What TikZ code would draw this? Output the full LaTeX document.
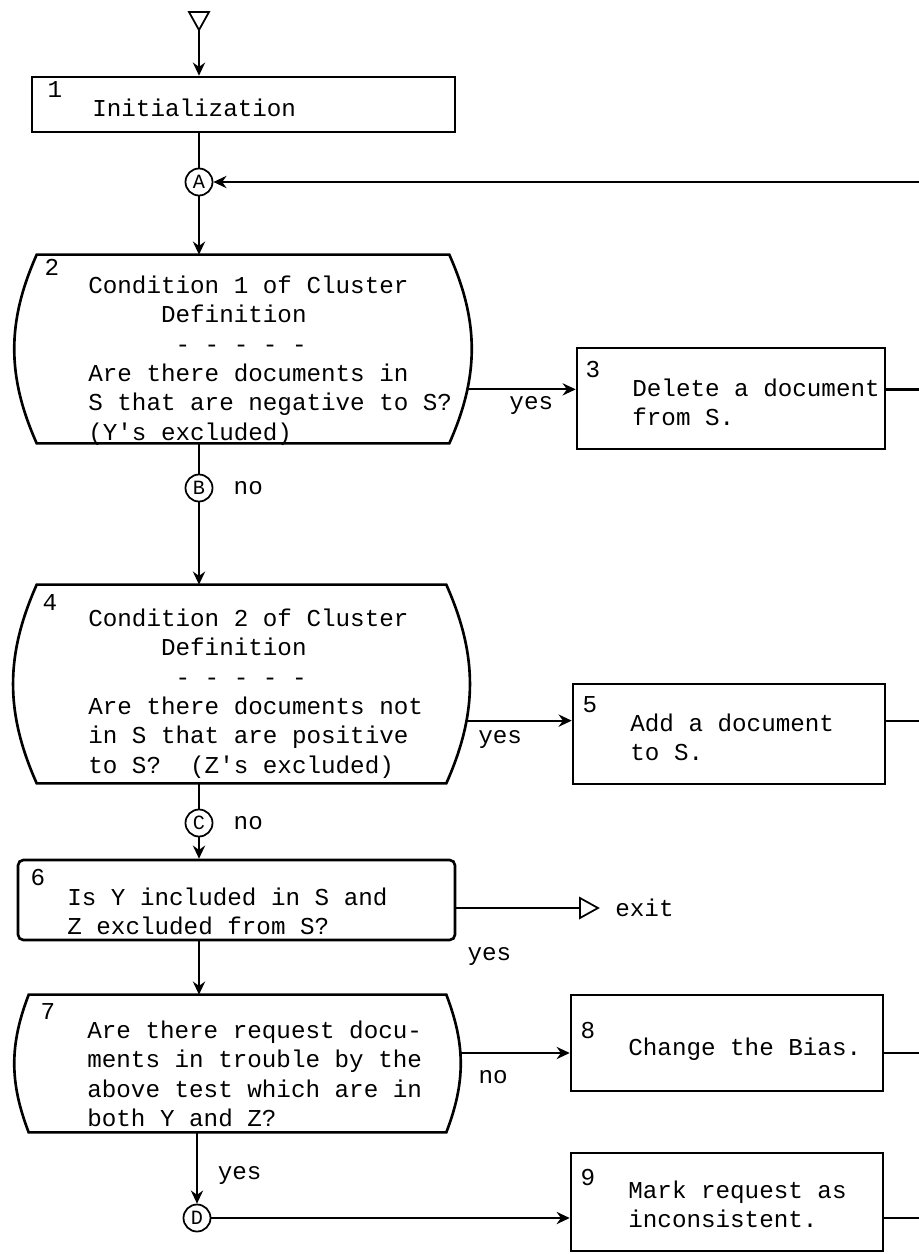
\documentclass[tikz,border=0pt]{standalone}
\usepackage{fontspec}
\setmonofont{Liberation Mono}
\usetikzlibrary{arrows.meta, positioning, calc}
\frenchspacing

\begin{document}
\begin{tikzpicture}[x=0.02cm, y=-0.02cm, auto,
    font=\ttfamily\fontsize{13.8}{16.7}\selectfont,
    >={Stealth[length=7.5pt, width=7pt, inset=2.5pt]},
    flow/.style={->, line width=1pt},
    frame/.style={draw, line width=1.5pt, inner sep=0pt},
    decframe/.style={inner sep=0pt},
    txt/.style={align=left, anchor=north west, inner sep=0pt},
    num/.style={inner sep=0pt},
    conn/.style={circle, draw, line width=1pt, inner sep=0pt, minimum size=0.54cm,
        font=\ttfamily\fontsize{11.5}{13}\selectfont},
    lbl/.style={inner sep=2pt}]

    \useasboundingbox (0,0) rectangle (919,1254);
    \coordinate (edge) at (919,0);

    % entry
    \coordinate (start) at (199,30);
    \draw[line width=1pt] (start) -- ++(-10,-18) -- ++(20,0) -- cycle;

    % 1
    \node[frame, minimum width=8.46cm, minimum height=1.10cm] (b1) at (243.5,104.5) {};
    \node[num] (n1) at (55,90) {1};
    \node[txt] (t1) at (92,98.5) {Initialization};
    \draw[flow] (start) -- (start |- b1.north);

    \node[conn] (A) at (199,182) {A};
    \draw[line width=1pt] (A |- b1.south) -- (A);
    \draw[flow] (A -| edge) -- (A);

    % 2
    \node[decframe, minimum width=9.16cm, minimum height=3.76cm] (c2) at (243,349) {};
    \draw[line width=1.5pt] ([xshift=0.46cm]c2.north west) -- ([xshift=-0.46cm]c2.north east)
        to[bend left=24] node[coordinate, pos=0.72] (y2) {} ([xshift=-0.46cm]c2.south east)
        -- ([xshift=0.46cm]c2.south west)
        to[bend left=24] ([xshift=0.46cm]c2.north west) -- cycle;
    \node[num] (n2) at (52,267) {2};
    \node[txt] (t2) at (88,275.5) {Condition 1 of Cluster\\
        \hspace*{3em}Definition\\
        \hspace*{3.6em}- - - - -\\
        Are there documents in\\
        S that are negative to S?\\
        (Y's excluded)};
    \draw[flow] (A) -- (A |- c2.north);

    % 3
    \node[frame, minimum width=6.16cm, minimum height=2.02cm] (b3) at (731,398.5) {};
    \node[num] (n3) at (593,370) {3};
    \node[txt] (t3) at (632,378.5) {Delete a document\\from S.};
    \draw[flow] (y2) -- node[lbl, below=1.8pt, pos=0.59] (yes2) {yes} (y2 -| b3.west);
    \draw[line width=2pt] (b3.east |- y2) -- (y2 -| edge);

    % B
    \node[conn] (B) at (199,488) {B};
    \node[lbl, right=0.33cm of B] (noB) {no};
    \draw[line width=1pt] (B |- c2.south) -- (B);

    % 4
    \node[decframe, minimum width=9.10cm, minimum height=3.96cm] (c4) at (241.5,684) {};
    \draw[line width=1.5pt] ([xshift=0.46cm]c4.north west) -- ([xshift=-0.46cm]c4.north east)
        to[bend left=24] node[coordinate, pos=0.69] (y4) {} ([xshift=-0.46cm]c4.south east)
        -- ([xshift=0.46cm]c4.south west)
        to[bend left=24] ([xshift=0.46cm]c4.north west) -- cycle;
    \node[num] (n4) at (50,603) {4};
    \node[txt] (t4) at (88,608.5) {Condition 2 of Cluster\\
        \hspace*{3em}Definition\\
        \hspace*{3.6em}- - - - -\\
        Are there documents not\\
        in S that are positive\\
        to S?\ \ (Z's excluded)};
    \draw[flow] (B) -- (B |- c4.north);

    % 5
    \node[frame, minimum width=6.24cm, minimum height=2.00cm] (b5) at (729,734) {};
    \node[num] (n5) at (590,705) {5};
    \node[txt] (t5) at (630,713.5) {Add a document\\to S.};
    \draw[flow] (y4) -- node[lbl, below=3pt, pos=0.32] (yes4) {yes} (y4 -| b5.west);
    \draw[line width=1.3pt] (b5.east |- y4) -- (y4 -| edge);

    % C
    \node[conn] (C) at (199,823) {C};
    \node[lbl, right=0.33cm of C] (noC) {no};
    \draw[line width=1pt] (C |- c4.south) -- (C);

    % 6
    \node[frame, rounded corners=3pt, minimum width=8.74cm, minimum height=1.60cm] (b6) at (236.5,900) {};
    \node[num] (n6) at (38,877) {6};
    \node[txt] (t6) at (67,887.5) {Is Y included in S and\\Z excluded from S?};
    \draw[flow] (C) -- (C |- b6.north);

    \coordinate (exit) at (580,908);
    \draw[line width=1pt] (exit) -- ++(0,-10) -- ++(18,10) -- ++(-18,10) -- cycle;
    \draw[line width=1pt] (b6.east |- exit) -- (exit);
    \node[lbl, right=0.63cm of exit] (exitlbl) {exit};
    \node[lbl, below right=0.05cm and 0.15cm of b6.south east] (yes6) {yes};

    % 7
    \node[decframe, minimum width=8.90cm, minimum height=2.74cm] (c7) at (237.5,1063.5) {};
    \draw[line width=1.5pt] ([xshift=0.28cm]c7.north west) -- ([xshift=-0.28cm]c7.north east)
        to[bend left=21] node[coordinate, pos=0.42] (no7) {} ([xshift=-0.28cm]c7.south east)
        -- ([xshift=0.28cm]c7.south west)
        to[bend left=21] ([xshift=0.28cm]c7.north west) -- cycle;
    \node[num] (n7) at (48,1012) {7};
    \node[txt] (t7) at (87,1020.5) {Are there request docu-\\
        ments in trouble by the\\
        above test which are in\\
        both Y and Z?};
    \draw[flow] (C |- b6.south) -- (C |- c7.north);

    % 8
    \node[frame, minimum width=6.24cm, minimum height=1.92cm] (b8) at (727,1043) {};
    \node[num] (n8) at (588,1030) {8};
    \node[txt] (t8) at (628,1037.5) {Change the Bias.};
    \draw[flow] (no7) -- node[lbl, below=7.4pt, pos=0.3] (lno7) {no} (no7 -| b8.west);
    \draw[line width=1.3pt] (b8.east |- no7) -- (no7 -| edge);

    % D
    \node[conn] (D) at (197,1218) {D};
    \draw[flow] (D |- c7.south) -- node[lbl, right=0.33cm, pos=0.6] (yes7) {yes} (D);

    % 9
    \node[frame, minimum width=6.24cm, minimum height=1.96cm] (b9) at (727,1202) {};
    \node[num] (n9) at (588,1177) {9};
    \node[txt] (t9) at (628,1180.5) {Mark request as\\inconsistent.};
    \draw[flow] (D) -- (D -| b9.west);
    \draw[line width=1.3pt] (b9.east |- D) -- (D -| edge);
\end{tikzpicture}
\end{document}
